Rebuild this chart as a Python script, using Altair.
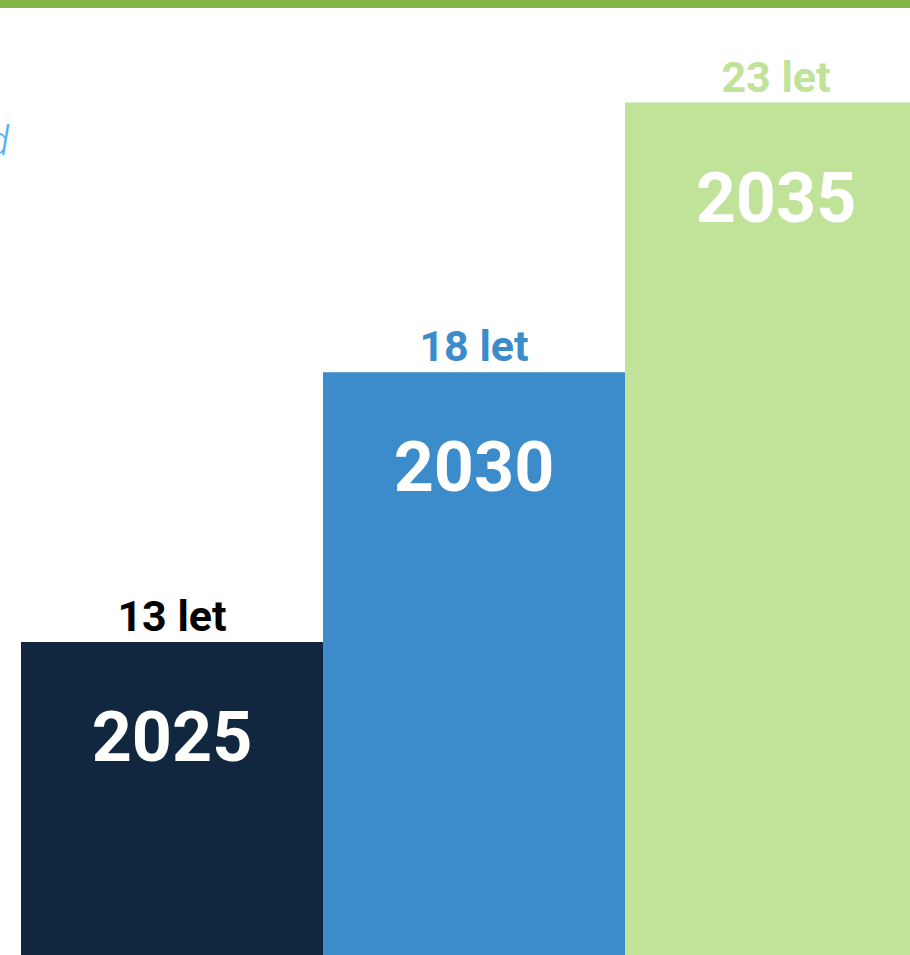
import altair as alt
import pandas as pd

years = ["2025", "2030", "2035"]
values = [13, 18, 23]
labels = ["13 let", "18 let", "23 let"]
bar_colors = ["#10273F", "#3C8BCA", "#C0E399"]
label_colors = ["#000000", "#3C8BCA", "#C0E399"]

df = pd.DataFrame({"year": years, "value": values, "label": labels,
                   "bar_color": bar_colors, "label_color": label_colors})

W, H = 910, 955
FONT = "Roboto"

xs = alt.X("year:N", axis=None, sort=years,
           scale=alt.Scale(range=[21, 927], paddingInner=0, paddingOuter=0))
ys = alt.Y("value:Q", axis=None, scale=alt.Scale(domain=[7.2, 24.9], zero=False, nice=False))

base = alt.Chart(df)

bars = base.mark_bar(clip=True).encode(
    x=xs, y=ys, y2=alt.datum(7.2),
    color=alt.Color("bar_color:N", scale=None, legend=None),
)

top_labels = base.mark_text(font=FONT, fontWeight="bold", fontSize=43, dy=-11,
                            baseline="alphabetic", align="center").encode(
    x=xs, y=ys, text="label:N",
    color=alt.Color("label_color:N", scale=None, legend=None),
)

year_labels = base.mark_text(font=FONT, fontWeight="bold", fontSize=70, dy=119,
                             baseline="alphabetic", align="center", color="white").encode(
    x=xs, y=ys, text="year:N",
)

band = alt.Chart(pd.DataFrame({"a": [0]})).mark_rect(color="#84B446").encode(
    x=alt.value(0), x2=alt.value(W), y=alt.value(0), y2=alt.value(8)
)

stray = alt.Chart(pd.DataFrame({"t": ["d"]})).mark_text(
    font=FONT, fontStyle="italic", fontWeight=300, fontSize=40, color="#4DB0F8",
    align="right", baseline="alphabetic"
).encode(x=alt.value(9), y=alt.value(155), text="t:N")

chart = alt.layer(bars, top_labels, year_labels, band, stray).properties(
    width=W, height=H, padding=0, background="white",
    autosize=alt.AutoSizeParams(type="none"),
).configure_view(stroke=None)

chart.save("out.html", embed_options={"renderer": "svg", "actions": False})
